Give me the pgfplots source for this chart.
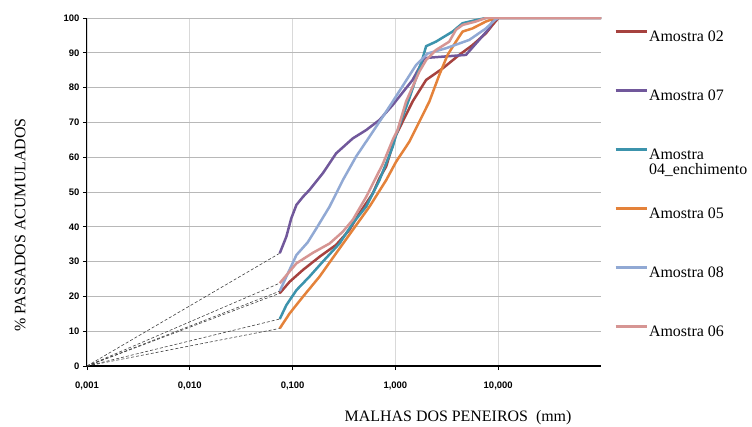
\documentclass[border=0pt]{standalone}
\usepackage{pgfplots}
\pgfplotsset{compat=1.18}
\usepackage{fontspec}
\setmainfont{Liberation Serif}
\newfontfamily\ticksans{Liberation Sans}
\definecolor{cRed}{HTML}{A6423F}
\definecolor{cPurple}{HTML}{71589B}
\definecolor{cTeal}{HTML}{3C93AC}
\definecolor{cOrange}{HTML}{E4823A}
\definecolor{cBlue}{HTML}{91A9D4}
\definecolor{cPink}{HTML}{D69593}

\begin{document}
\begin{tikzpicture}
\useasboundingbox (-87bp,-61bp) rectangle (665bp,366bp);
\begin{axis}[at={(0,0)},anchor=south west,scale only axis,width=514bp,height=348bp,
    xmode=log,xmin=0.001,xmax=100,ymin=0,ymax=100,
    axis x line*=bottom,axis y line*=left,axis line style={-},
    x axis line style={line width=2bp},y axis line style={line width=1bp},
    xtick={0.001,0.01,0.1,1,10},xticklabels={{0,001},{0,010},{0,100},{1,000},{10,000}},
    xminorticks=false,
    ytick={0,10,...,100},
    xmajorgrids,ymajorgrids,
    x grid style={color=black!15,line width=1.4bp},
    y grid style={color=black!28,line width=0.8bp},
    tick align=outside,major tick length=4bp,tick style={black,line width=0.8bp},
    /pgf/number format/assume math mode=true,
    ticklabel style={font=\ticksans\bfseries\fontsize{9.5}{9.5}\selectfont},
    xticklabel style={yshift=-8bp},
    xlabel={MALHAS DOS PENEIROS\ \ (mm)},
    ylabel={\% PASSADOS ACUMULADOS},
    label style={font=\fontsize{16}{16}\selectfont},
    xlabel style={at={(axis description cs:0.722,-0.149)},anchor=center},
    ylabel style={at={(axis description cs:-0.130,0.405)},anchor=center},
    legend style={at={(axis description cs:1.025,0.966)},anchor=north west,draw=none,fill=none,
        inner sep=0pt,row sep=48bp,font=\fontsize{16}{16}\selectfont,
        nodes={inner xsep=1bp,inner ysep=0pt,text height=11bp,text depth=0bp}},
    legend cell align=left,
    legend image code/.code={\draw[#1,line width=3bp] (0bp,4bp) -- (31bp,4bp);},
    every axis plot/.append style={line width=2.5bp,line join=round}]

% dashed extrapolation to the origin
\addplot[forget plot,black!75,line width=0.6bp,dash pattern=on 3bp off 2bp] coordinates {(0.001,0) (0.075,32.4)};
\addplot[forget plot,black!75,line width=0.6bp,dash pattern=on 3bp off 2bp] coordinates {(0.001,0) (0.075,23.8)};
\addplot[forget plot,black!75,line width=0.6bp,dash pattern=on 3bp off 2bp] coordinates {(0.001,0) (0.075,21.5)};
\addplot[forget plot,black!75,line width=0.6bp,dash pattern=on 3bp off 2bp] coordinates {(0.001,0) (0.075,20.9)};
\addplot[forget plot,black!75,line width=0.6bp,dash pattern=on 3bp off 2bp] coordinates {(0.001,0) (0.075,13.5)};
\addplot[forget plot,black!75,line width=0.6bp,dash pattern=on 3bp off 2bp] coordinates {(0.001,0) (0.075,10.8)};

\addplot[cRed] coordinates {(0.075,20.9) (0.0935,24.2) (0.126,27.6) (0.183,31.4) (0.265,34.8) (0.357,39.1)
  (0.447,43.9) (0.603,49.6) (0.70,54) (0.813,57.3) (1.0,66) (1.47,76) (1.99,82.2) (2.88,85.5)
  (4.18,89.4) (5.62,92.2) (7.6,95.6) (8.81,98) (9.85,99.7) (10,100) (100,100)};
\addlegendentry{Amostra 02}
\addplot[cPurple] coordinates {(0.075,32.4) (0.087,37.2) (0.097,42.4) (0.109,46.3) (0.126,48.6) (0.146,50.6)
  (0.197,55.4) (0.265,61.1) (0.385,65.4) (0.52,67.8) (0.70,70.7) (0.942,75)
  (1.47,82.2) (1.91,88.4) (2.14,88.6) (4.86,89.4) (8.18,97) (8.81,99) (10,100) (100,100)};
\addlegendentry{Amostra 07}
\addplot[cTeal] coordinates {(0.075,13.5) (0.087,17.5) (0.109,21.8) (0.146,25.7) (0.197,30) (0.286,35.2)
  (0.385,41) (0.52,45.8) (0.70,53.4) (0.782,57) (0.942,63) (1.016,66.4) (1.37,77) (1.84,88.4)
  (1.99,91.9) (2.48,93.2) (3.6,96.1) (4.5,98.5) (6.07,99.4) (7.6,100) (100,100)};
\addlegendentry{\begin{tabular}[t]{@{}l@{}}Amostra\\04\_enchimento\end{tabular}}
\addplot[cOrange] coordinates {(0.075,10.8) (0.0935,15.1) (0.126,19.9) (0.183,25.7) (0.265,32.4) (0.385,39.1)
  (0.56,45.8) (0.813,53.4) (1.016,58.7) (1.37,64.5) (1.71,70.2) (2.14,76) (2.67,83.6) (3.22,89.4)
  (3.88,93.2) (4.5,96.1) (5.62,97) (7.6,99) (9.5,100) (100,100)};
\addlegendentry{Amostra 05}
\addplot[cBlue] coordinates {(0.075,21.5) (0.087,25.7) (0.109,31.9) (0.14,35.5) (0.17,39.5) (0.229,45.8)
  (0.308,53.4) (0.415,60.2) (0.56,65.9) (0.753,71.6) (0.942,76) (1.094,79)
  (1.59,86.5) (2.06,89.8) (3.1,91.3) (5.23,93.7) (7.6,97) (9.5,99.7) (10,100) (100,100)};
\addlegendentry{Amostra 08}
\addplot[cPink] coordinates {(0.075,23.8) (0.109,29.5) (0.157,32.5) (0.229,35.2) (0.308,38.6) (0.385,42)
  (0.52,48.6) (0.753,58) (0.942,65) (1.05,67.8) (1.27,76) (1.71,84.6) (1.99,87.9) (2.48,90.8)
  (3.34,93.2) (3.88,96.6) (4.5,98) (6.07,99) (7.6,100) (100,100)};
\addlegendentry{Amostra 06}
\end{axis}
\end{tikzpicture}
\end{document}
